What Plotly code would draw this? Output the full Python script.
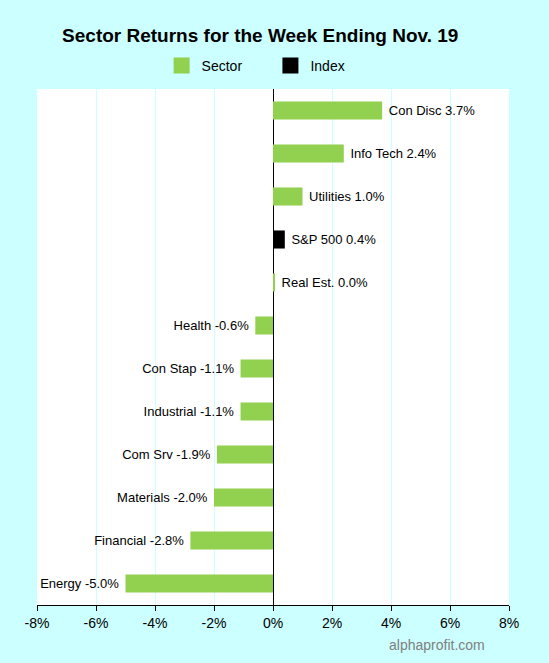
import plotly.graph_objects as go

sectors = ['Con Disc', 'Info Tech', 'Utilities', 'S&P 500', 'Real Est.',
           'Health', 'Con Stap', 'Industrial', 'Com Srv', 'Materials',
           'Financial', 'Energy']
returns = [3.7, 2.4, 1.0, 0.4, 0.04, -0.6, -1.1, -1.1, -1.9, -2.0, -2.8, -5.0]
index_names = ['S&P 500']
tick_vals = [-8, -6, -4, -2, 0, 2, 4, 6, 8]

GREEN = '#92D050'
BG = '#CCFFFF'
FONT = 'Liberation Sans, Arial'


def make_label(name, val):
    txt = f'{name} {val:.1f}%'
    return ' ' + txt if val >= 0 else txt + ' '


sec = [(s, r) for s, r in zip(sectors, returns) if s not in index_names]
idx = [(s, r) for s, r in zip(sectors, returns) if s in index_names]

fig = go.Figure()
for name, rows, color in [('Sector', sec, GREEN), ('Index', idx, 'black')]:
    fig.add_trace(go.Bar(
        name=name, orientation='h', showlegend=False,
        y=[s for s, _ in rows], x=[r for _, r in rows],
        marker=dict(color=color, line=dict(width=0)),
        text=[make_label(s, r) for s, r in rows],
        textposition='outside', cliponaxis=False,
        textfont=dict(family=FONT, size=13, color='black'),
        width=0.42,
    ))
    # legend-only entry with a bigger square swatch
    fig.add_trace(go.Scatter(
        name=name + '      ', x=[None], y=[None], mode='markers',
        marker=dict(symbol='square', size=18, color=color),
    ))

fig.update_layout(
    width=549, height=663,
    paper_bgcolor=BG, plot_bgcolor='white',
    barmode='relative',
    margin=dict(l=37, r=40, t=89, b=58),
    font=dict(family=FONT, size=13, color='black'),
    title=dict(text='<b>Sector Returns for the Week Ending Nov. 19</b>',
               x=0.474, xanchor='center', y=0.947, yanchor='middle',
               font=dict(size=19, color='black')),
    legend=dict(orientation='h', x=0.264, xanchor='left', y=1.045,
                yanchor='middle', font=dict(size=14), itemwidth=30,
                bgcolor='rgba(0,0,0,0)'),
    showlegend=True,
    xaxis=dict(range=[-8, 8], tickvals=tick_vals,
               ticktext=[f'{v}%' for v in tick_vals],
               showgrid=True, gridcolor=BG, gridwidth=1,
               zeroline=True, zerolinecolor='black', zerolinewidth=1,
               showline=True, linecolor='black', linewidth=1,
               ticks='outside', tickcolor='black', ticklen=5,
               tickfont=dict(size=14), fixedrange=True),
    yaxis=dict(categoryorder='array', categoryarray=sectors[::-1],
               showticklabels=False, showgrid=False, zeroline=False,
               ticks='', fixedrange=True),
    annotations=[dict(text='alphaprofit.com', xref='paper', yref='paper',
                      x=0.953, y=-0.078, xanchor='right', yanchor='middle',
                      showarrow=False,
                      font=dict(size=14, color='#808080'))],
)

fig.write_html('out.html', config={'displayModeBar': False},
               post_script="document.body.style.margin='0';")
